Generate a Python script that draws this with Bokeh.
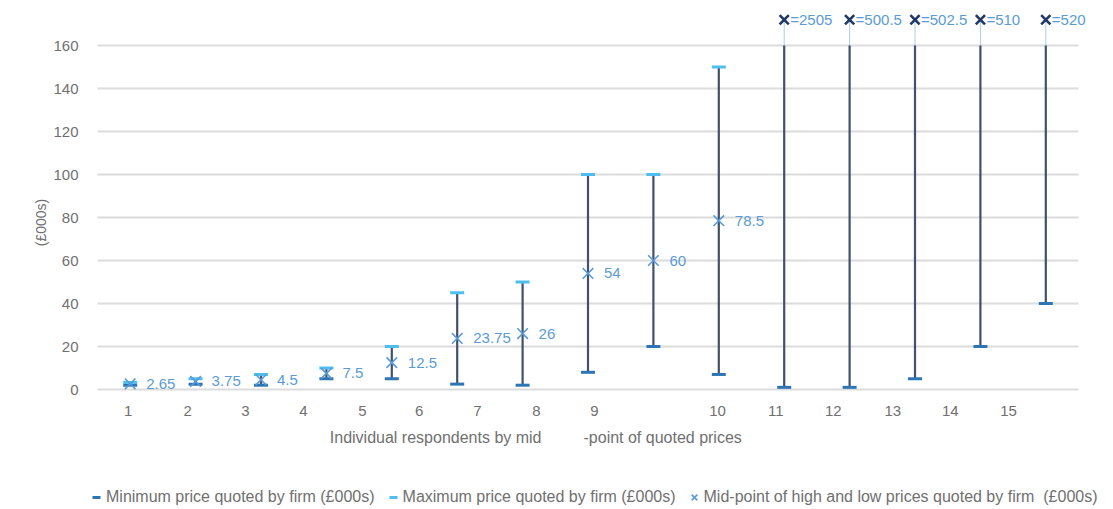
from bokeh.plotting import figure
from bokeh.models import (ColumnDataSource, FixedTicker, Label, Legend, LegendItem,
                          Range1d)
from bokeh.core.properties import value
from bokeh.embed import file_html
from bokeh.resources import INLINE
from math import pi

# Quoted prices per respondent (£000s), ordered by mid-point
respondents = list(range(1, 16))
min_price = [2, 2.5, 2, 5, 5, 2.5, 2, 8, 20, 7, 1, 1, 5, 20, 40]
max_price = [3.3, 5, 7, 10, 20, 45, 50, 100, 100, 150, 5009, 1000, 1000, 1000, 1000]
mid_price = [2.65, 3.75, 4.5, 7.5, 12.5, 23.75, 26, 54, 60, 78.5, 2505, 500.5, 502.5, 510, 520]

# Category axis labels and where they sit along the axis
tick_labels = [str(i) for i in range(1, 16)]
tick_positions = [0.97, 1.88, 2.76, 3.65, 4.55, 5.42, 6.31, 7.21, 8.10,
                  9.98, 10.87, 11.75, 12.66, 13.54, 14.43]
y_ticks = [0, 20, 40, 60, 80, 100, 120, 140, 160]

AXIS_TOP = 160      # top of the printed scale
BREAK_ROW = 172     # row where off-scale mid-points are shown
X_START, X_END = 0.5, 15.5

FONT = "Liberation Sans"
GREY = "#707070"
STEM = "#42506C"
MIN_C = "#2E75B6"
MAX_C = "#4DBEEE"
MID_C = "#5B9BD5"
OFF_C = "#1F3864"
GRID_C = "#DCDCDC"


def fmt(v):
    return f"{v:g}"


on_idx = [i for i, m in enumerate(mid_price) if m <= AXIS_TOP]
off_idx = [i for i, m in enumerate(mid_price) if m > AXIS_TOP]
max_keep = [i for i, h in enumerate(max_price) if h <= AXIS_TOP]

grid = ColumnDataSource(dict(
    x0=[X_START] * len(y_ticks), x1=[X_END] * len(y_ticks), y=y_ticks))
stems = ColumnDataSource(dict(
    x=respondents,
    y0=min_price,
    y1=[min(h, AXIS_TOP) for h in max_price],
))
mins = ColumnDataSource(dict(x=respondents, y=min_price))
maxs = ColumnDataSource(dict(
    x=[respondents[i] for i in max_keep],
    y=[max_price[i] for i in max_keep],
))
mids = ColumnDataSource(dict(
    x=[respondents[i] for i in on_idx],
    y=[mid_price[i] for i in on_idx],
    label=[fmt(mid_price[i]) for i in on_idx],
))
offs = ColumnDataSource(dict(
    x=[respondents[i] for i in off_idx],
    y=[BREAK_ROW for _ in off_idx],
    y0=[AXIS_TOP for _ in off_idx],
    label=["=" + fmt(mid_price[i]) for i in off_idx],
))

# The frame fills the whole canvas; axes are pinned to the data origin so
# that the titles and legend around the chart sit inside the frame.
p = figure(width=1113, height=509, output_backend="svg", toolbar_location=None,
           x_range=Range1d(-0.983, 16.035), y_range=Range1d(-55.81, 180.93),
           min_border_left=0, min_border_right=0,
           min_border_top=0, min_border_bottom=0)
p.outline_line_color = None
p.background_fill_color = "white"
p.border_fill_color = "white"
p.xgrid.grid_line_color = None
p.ygrid.grid_line_color = None

# y axis
p.yaxis.fixed_location = X_START
p.yaxis.ticker = FixedTicker(ticks=y_ticks)
p.yaxis.axis_line_color = None
p.yaxis.major_tick_line_color = None
p.yaxis.minor_tick_line_color = None
p.yaxis.major_label_standoff = 13
p.yaxis.major_label_text_font = FONT
p.yaxis.major_label_text_font_size = "15px"
p.yaxis.major_label_text_color = GREY

# x axis
p.xaxis.fixed_location = 0
p.xaxis.ticker = FixedTicker(ticks=tick_positions)
p.xaxis.major_label_overrides = dict(zip(tick_positions, tick_labels))
p.xaxis.axis_line_color = None
p.xaxis.major_tick_line_color = None
p.xaxis.minor_tick_line_color = None
p.xaxis.major_label_standoff = 10
p.xaxis.major_label_text_font = FONT
p.xaxis.major_label_text_font_size = "15px"
p.xaxis.major_label_text_color = GREY

# horizontal gridlines across the category span
p.segment(x0="x0", y0="y", x1="x1", y1="y", source=grid,
          line_color=GRID_C, line_width=2)

# range stems, then the dotted continuation to off-scale mid-points
p.segment(x0="x", y0="y0", x1="x", y1="y1", source=stems,
          line_color=STEM, line_width=2.2)
p.segment(x0="x", y0="y0", x1="x", y1="y", source=offs,
          line_color=MID_C, line_width=1, line_dash="1 1")

r_min = p.scatter(x="x", y="y", source=mins, marker="dash", size=14,
                  line_color=MIN_C, line_width=3)
r_max = p.scatter(x="x", y="y", source=maxs, marker="dash", size=14,
                  line_color=MAX_C, line_width=3)
r_mid = p.scatter(x="x", y="y", source=mids, marker="x", size=15,
                  line_color=MID_C, line_width=1.6)
p.scatter(x="x", y="y", source=offs, marker="x", size=13,
          line_color=OFF_C, line_width=2.6)

p.text(x="x", y="y", text="label", source=mids, x_offset=16,
       text_font=value(FONT), text_font_size="15px", text_color=MID_C,
       text_baseline="middle", text_align="left")
p.text(x="x", y="y", text="label", source=offs, x_offset=6,
       text_font=value(FONT), text_font_size="15px", text_color=MID_C,
       text_baseline="middle", text_align="left")

# axis titles
p.add_layout(Label(x=40, y=287, x_units="screen", y_units="screen",
                   text="(£000s)", angle=pi / 2, text_align="center",
                   text_baseline="middle", text_font=FONT,
                   text_font_size="14px", text_color=GREY))
p.add_layout(Label(x=541, y=72, x_units="screen", y_units="screen",
                   text="Individual respondents by mid", text_align="right",
                   text_baseline="middle", text_font=FONT,
                   text_font_size="16px", text_color=GREY))
p.add_layout(Label(x=583, y=72, x_units="screen", y_units="screen",
                   text="-point of quoted prices", text_align="left",
                   text_baseline="middle", text_font=FONT,
                   text_font_size="16px", text_color=GREY))

legend = Legend(items=[
    LegendItem(label="Minimum price quoted by firm (£000s)", renderers=[r_min]),
    LegendItem(label="Maximum price quoted by firm (£000s)", renderers=[r_max]),
    LegendItem(label="Mid-point of high and low prices quoted by firm  (£000s)",
               renderers=[r_mid]),
], orientation="horizontal", location=(86, 2),
    glyph_width=20, glyph_height=20, label_standoff=-3, spacing=8,
    padding=0, margin=0, border_line_color=None, background_fill_alpha=0,
    label_text_font=FONT, label_text_font_size="16px", label_text_color=GREY,
    label_height=20)
p.add_layout(legend, "center")

open("out.html", "w").write(file_html(p, INLINE))
